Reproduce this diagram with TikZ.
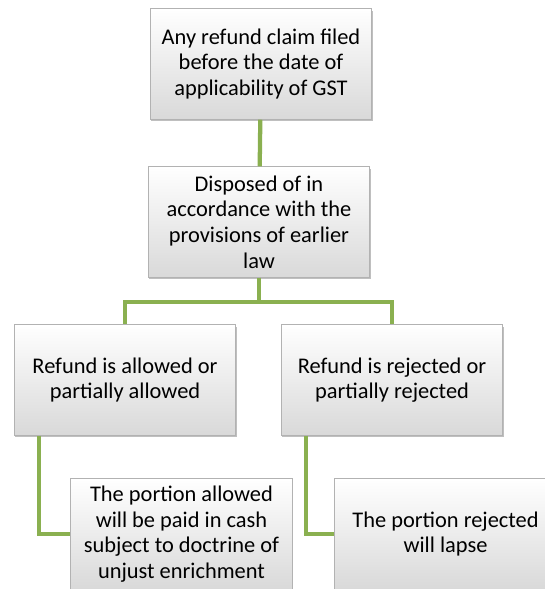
\documentclass[tikz,border=0pt]{standalone}
\usepackage{fontspec}
\setmainfont{Carlito}
\usepackage{tikz}
\usepackage{xcolor}
\usetikzlibrary{shadows}
\usetikzlibrary{calc}

\definecolor{linkgreen}{RGB}{138,176,80}

\begin{document}
\begin{tikzpicture}[x=0.75pt, y=-0.75pt,
		every node/.style={rectangle, draw=gray!60, line width=0.6pt,
			top color=white, bottom color=gray!30,
			drop shadow={shadow xshift=0.8pt, shadow yshift=-1.4pt, opacity=0.5},
			minimum width=166pt, minimum height=83pt, align=center,
			font=\fontsize{16.8}{19.2}\selectfont},
		link/.style={draw=linkgreen, line width=3.2pt}]
	
	\useasboundingbox (0,0) rectangle (545,589);
	
	\node (n1) at (261, 64) {Any refund claim filed\\before the date of\\applicability of GST};
	\node (n2) at (259, 222) {Disposed of in\\accordance with the\\provisions of earlier\\law};
	\node (n3) at (125, 380) {Refund is allowed or\\partially allowed};
	\node (n4) at (392, 380) {Refund is rejected or\\partially rejected};
	\node (n5) at (181.5, 534) {The portion allowed\\will be paid in cash\\subject to doctrine of\\unjust enrichment};
	\node (n6) at (445.5, 534) {The portion rejected\\will lapse};
	
	%  top of the tree
	\draw[link] (n1) -- (n2);
	%  split into the two outcomes
	\draw[link] (n2.south) -- ++(0,24) -| (n3.north);
	\draw[link] (n2.south) -- ++(0,24) -| (n4.north);
	%  what follows each outcome
	\draw[link] ($(n3.south west)+(25,0)$) |- (n5.west);
	\draw[link] ($(n4.south west)+(25,0)$) |- (n6.west);
\end{tikzpicture}
\end{document}
